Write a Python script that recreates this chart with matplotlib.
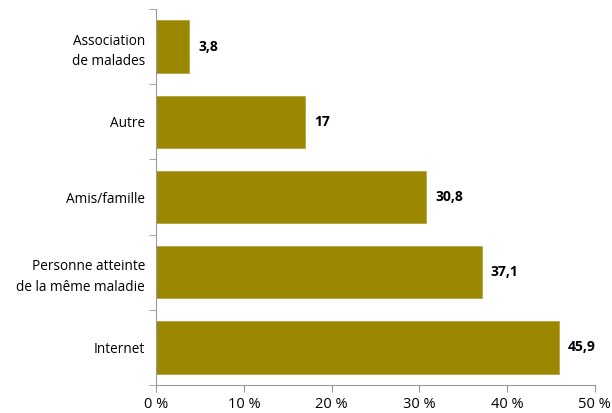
import matplotlib.pyplot as plt
from matplotlib.ticker import FixedLocator

categories = ["Internet", "Personne atteinte\nde la même maladie", "Amis/famille", "Autre",
              "Association\nde malades"]
values = [45.9, 37.1, 30.8, 17, 3.8]
value_labels = ["45,9", "37,1", "30,8", "17", "3,8"]
x_ticks = [0, 10, 20, 30, 40, 50]
x_labels = ["0 %", "10 %", "20 %", "30 %", "40 %", "50 %"]

plt.rcParams['font.family'] = ['Open Sans', 'DejaVu Sans']
fig = plt.figure(figsize=(6.12, 4.13), dpi=100)
ax = fig.add_axes([0.255, 0.068, 0.717, 0.91])

y = range(len(categories))
ax.barh(y, values, height=0.7, color="#9c8700", edgecolor="#b5a640", linewidth=0.6)
for yi, v, lab in zip(y, values, value_labels):
    ax.text(v + 1.0, yi, lab, va="center", ha="left", fontsize=10, fontweight="bold")

ax.set_xlim(0, 50)
ax.set_ylim(-0.5, len(categories) - 0.5)
ax.set_xticks(x_ticks)
ax.set_xticklabels(x_labels, fontsize=10.5)
ax.set_yticks(list(y))
ax.set_yticklabels(categories, fontsize=9.8, linespacing=1.5)
ax.yaxis.set_minor_locator(FixedLocator([i - 0.5 for i in range(len(categories) + 1)]))
ax.tick_params(axis="y", which="major", length=0, pad=8)
ax.tick_params(axis="y", which="minor", length=5, color="#999999")
ax.tick_params(axis="x", length=5, color="#999999")

for s in ["top", "right"]:
    ax.spines[s].set_visible(False)
ax.spines["left"].set_color("#999999")
ax.spines["bottom"].set_color("#999999")

plt.savefig("out.png", dpi=100)
